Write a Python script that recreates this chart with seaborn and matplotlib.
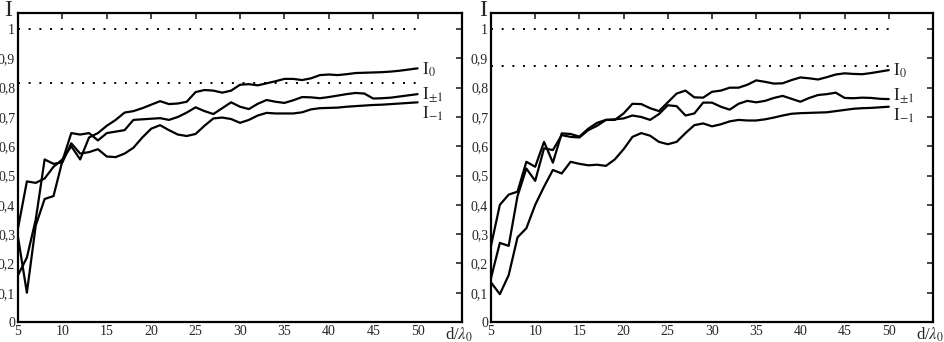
import numpy as np
import pandas as pd
import matplotlib
matplotlib.use("Agg")
import matplotlib.pyplot as plt
import seaborn as sns

# distance d/lambda0
d = list(range(5, 51))

# left panel
left_i0 = [0.32, 0.48, 0.475, 0.49, 0.53, 0.555, 0.60, 0.555, 0.63, 0.645,
           0.67, 0.69, 0.715, 0.72, 0.73, 0.742, 0.754, 0.744, 0.746, 0.752,
           0.785, 0.792, 0.79, 0.783, 0.79, 0.81, 0.812, 0.808, 0.815, 0.822,
           0.83, 0.83, 0.826, 0.832, 0.843, 0.845, 0.843, 0.846, 0.85, 0.851,
           0.852, 0.853, 0.855, 0.858, 0.862, 0.866]
left_i1 = [0.29, 0.10, 0.33, 0.42, 0.43, 0.55, 0.645, 0.64, 0.645, 0.62,
           0.645, 0.65, 0.655, 0.69, 0.692, 0.694, 0.696, 0.69, 0.70, 0.715,
           0.733, 0.72, 0.71, 0.73, 0.75, 0.735, 0.727, 0.745, 0.758, 0.752,
           0.748, 0.757, 0.768, 0.767, 0.764, 0.768, 0.773, 0.778, 0.782, 0.78,
           0.763, 0.764, 0.766, 0.77, 0.774, 0.778]
left_im1 = [0.16, 0.22, 0.35, 0.555, 0.54, 0.545, 0.61, 0.575, 0.58, 0.59,
            0.565, 0.563, 0.575, 0.595, 0.63, 0.66, 0.672, 0.655, 0.64, 0.635,
            0.642, 0.67, 0.695, 0.698, 0.693, 0.68, 0.69, 0.705, 0.714, 0.712,
            0.712, 0.712, 0.716, 0.726, 0.73, 0.731, 0.732, 0.735, 0.737, 0.739,
            0.741, 0.742, 0.744, 0.746, 0.748, 0.75]

# right panel
right_i0 = [0.26, 0.40, 0.435, 0.445, 0.547, 0.53, 0.615, 0.544, 0.644, 0.642,
            0.633, 0.66, 0.68, 0.69, 0.69, 0.712, 0.745, 0.744, 0.73, 0.72,
            0.75, 0.78, 0.79, 0.767, 0.766, 0.786, 0.79, 0.80, 0.80, 0.81,
            0.825, 0.82, 0.814, 0.815, 0.826, 0.835, 0.832, 0.828, 0.836, 0.845,
            0.849, 0.847, 0.846, 0.85, 0.855, 0.86]
right_i1 = [0.15, 0.27, 0.26, 0.43, 0.524, 0.482, 0.593, 0.587, 0.638, 0.632,
            0.63, 0.655, 0.67, 0.69, 0.692, 0.695, 0.705, 0.70, 0.69, 0.71,
            0.74, 0.737, 0.705, 0.712, 0.749, 0.749, 0.735, 0.725, 0.745, 0.755,
            0.75, 0.755, 0.765, 0.772, 0.762, 0.752, 0.765, 0.775, 0.778, 0.783,
            0.765, 0.764, 0.766, 0.765, 0.762, 0.761]
right_im1 = [0.135, 0.095, 0.16, 0.289, 0.32, 0.40, 0.462, 0.519, 0.507, 0.547,
             0.54, 0.535, 0.537, 0.533, 0.555, 0.59, 0.632, 0.645, 0.636, 0.615,
             0.607, 0.615, 0.645, 0.672, 0.678, 0.668, 0.675, 0.685, 0.69, 0.688,
             0.688, 0.692, 0.698, 0.705, 0.711, 0.713, 0.714, 0.715, 0.716, 0.72,
             0.724, 0.728, 0.73, 0.731, 0.733, 0.735]

# dotted reference levels
left_levels = [1.0, 0.815]
right_levels = [1.0, 0.875]

series_names = [r'$\mathrm{I}_0$', r'$\mathrm{I}_{\pm1}$', r'$\mathrm{I}_{-1}$']
yticks = [0, 0.1, 0.2, 0.3, 0.4, 0.5, 0.6, 0.7, 0.8, 0.9, 1.0]
ytick_labels = ['0', '0,1', '0,2', '0,3', '0,4', '0,5', '0,6', '0,7', '0,8', '0,9', '1']
xticks = [5, 10, 15, 20, 25, 30, 35, 40, 45, 50]

sns.set_style("white")
plt.rcParams['font.family'] = ['Liberation Serif', 'DejaVu Serif']
plt.rcParams['mathtext.fontset'] = 'stix'

fig = plt.figure(figsize=(9.45, 3.42), dpi=100)
ax_l = fig.add_axes([18 / 945, 20 / 342, 444 / 945, 309 / 342])
ax_r = fig.add_axes([491 / 945, 20 / 342, 442 / 945, 309 / 342])


def draw_panel(ax, curves, levels, label_pos):
    df = pd.DataFrame({'d': d * 3,
                       'I': curves[0] + curves[1] + curves[2],
                       'mode': sum([[n] * len(d) for n in series_names], [])})
    sns.lineplot(data=df, x='d', y='I', units='mode', estimator=None,
                 color='black', linewidth=1.6, ax=ax, legend=False)
    for lv in levels:
        ax.plot([5, 50], [lv, lv], color='black', linewidth=1.4,
                linestyle=(0, (1, 4.5)))
    for name, (lx, ly) in zip(series_names, label_pos):
        ax.text(lx, ly, name, fontsize=12.5, va='center', ha='left')
    ax.set_xlim(5, 55)
    ax.set_ylim(0, 1.055)
    ax.set_xticks(xticks)
    ax.set_yticks(yticks)
    ax.set_yticklabels(ytick_labels)
    ax.tick_params(direction='in', length=4, width=1.2, top=True, right=True,
                   labelsize=10, pad=2)
    ax.set_xlabel('')
    ax.set_ylabel('')
    for sp in ax.spines.values():
        sp.set_linewidth(1.6)
        sp.set_color('black')
    ax.text(0.993, -0.012, r'd/$\lambda_0$', transform=ax.transAxes, fontsize=12,
            ha='center', va='top')


draw_panel(ax_l, [left_i0, left_i1, left_im1], left_levels,
           [(50.5, 0.862), (50.5, 0.778), (50.5, 0.712)])
draw_panel(ax_r, [right_i0, right_i1, right_im1], right_levels,
           [(50.5, 0.858), (50.5, 0.772), (50.5, 0.705)])

# axis title "I" above each panel's top-left corner
fig.text(8 / 945, 1.0, 'I', fontsize=17, ha='center', va='top')
fig.text(483 / 945, 1.0, 'I', fontsize=17, ha='center', va='top')

fig.savefig("out.png", dpi=100)
